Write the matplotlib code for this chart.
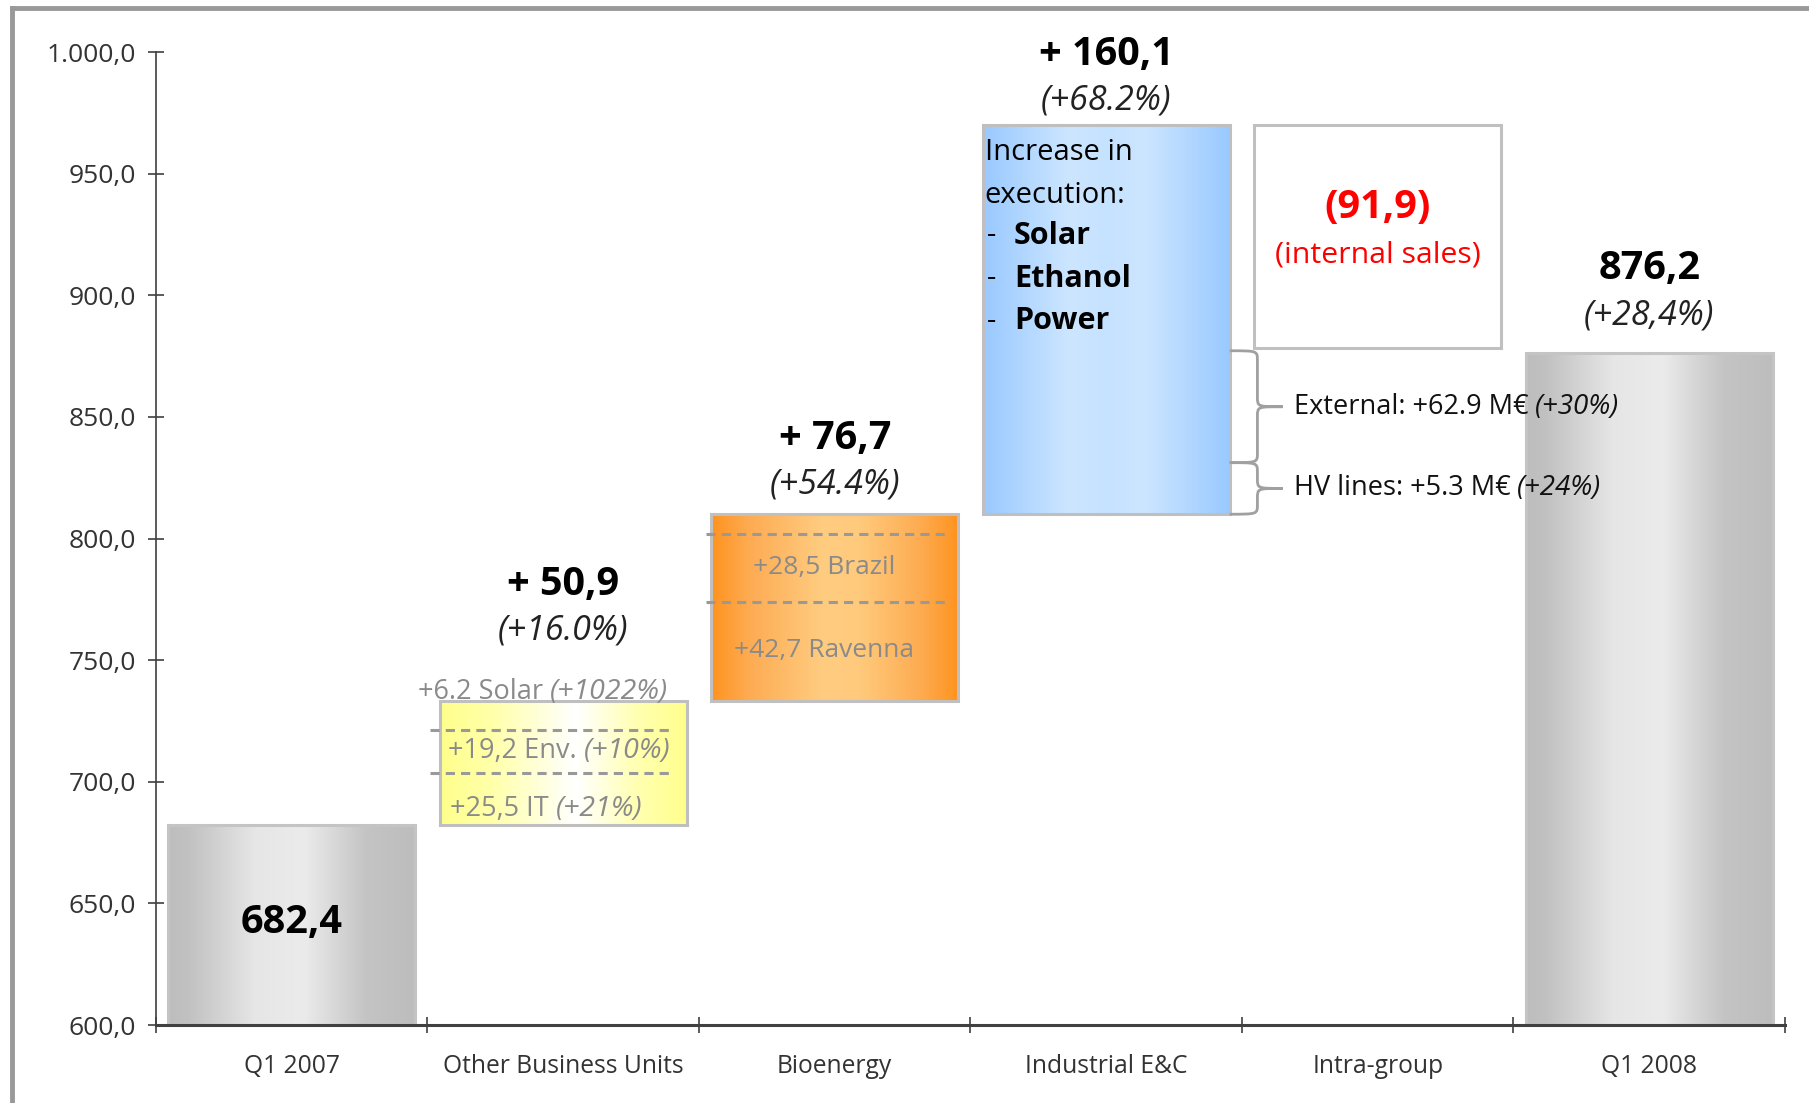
import numpy as np
import matplotlib
matplotlib.use('Agg')
import matplotlib.pyplot as plt
from matplotlib.colors import LinearSegmentedColormap
from matplotlib.path import Path
from matplotlib.patches import PathPatch
from matplotlib.lines import Line2D
from matplotlib.ticker import FuncFormatter

plt.rcParams['font.family'] = ['Open Sans', 'DejaVu Sans']

# data
categories = ['Q1 2007', 'Other Business Units', 'Bioenergy', 'Industrial E&C',
              'Intra-group', 'Q1 2008']
start_value = 682.4
deltas = [50.9, 76.7, 160.1, -91.9]
end_value = 876.2
delta_labels = ['+ 50,9', '+ 76,7', '+ 160,1', '(91,9)']
pct_labels = ['(+16.0%)', '(+54.4%)', '(+68.2%)', '(internal sales)']
start_label = '682,4'
end_label = '876,2'
end_pct = '(+28,4%)'

obu_parts = [('+6.2 Solar ', '(+1022%)'), ('+19,2 Env. ', '(+10%)'), ('+25,5 IT ', '(+21%)')]
obu_dividers = [703.6, 721.1]
bio_parts = ['+28,5 Brazil', '+42,7 Ravenna']
bio_dividers = [774.0, 802.0]
ind_intro = ['Increase in', 'execution:']
ind_items = ['Solar', 'Ethanol', 'Power']
brace_ranges = [(831.2, 877.2), (810.0, 831.2)]
brace_labels = [('External: +62.9 M€ ', '(+30%)'), ('HV lines: +5.3 M€ ', '(+24%)')]

# layout (label heights in axis units)
delta_label_y = [781.0, 841.3, 999.0, 936.0]
pct_label_y = [762.0, 822.3, 980.0, 916.4]
obu_text_y = [736.8, 712.6, 688.9]
obu_text_x = [0.465, 0.575, 0.583]
bio_text_y = [788.1, 753.9]
ind_text_y = [958.7, 941.1, 924.5, 906.9, 889.3]

# waterfall geometry from the data
levels = np.cumsum([start_value] + deltas)
x = np.arange(len(categories))
bottoms = [600.0] + [min(levels[i], levels[i + 1]) for i in range(len(deltas))] + [600.0]
heights = [start_value - 600.0] + [abs(d) for d in deltas] + [end_value - 600.0]

grey = [(0, '#bdbdbd'), (0.08, '#c1c1c1'), (0.35, '#e6e6e6'), (0.55, '#ebebeb'),
        (0.8, '#c4c4c4'), (1, '#bdbdbd')]
yellow = [(0, '#ffff8c'), (0.2, '#ffffa8'), (0.55, '#ffffff'), (0.8, '#ffffb0'), (1, '#ffff8c')]
orange = [(0, '#ff931e'), (0.15, '#fdab52'), (0.45, '#ffcc80'), (0.6, '#ffca7c'),
          (0.85, '#fdab50'), (1, '#ff931e')]
blue = [(0, '#99c9ff'), (0.35, '#cde6ff'), (0.5, '#c5e2ff'), (0.65, '#cde6ff'), (1, '#99c9ff')]
fills = [grey, yellow, orange, blue, None, grey]

fig = plt.figure(figsize=(18.09, 11.03), dpi=100)
ax = fig.add_axes([0.0862, 0.0707, 0.9005, 0.8821])

bars = ax.bar(x, heights, bottom=bottoms, width=0.91,
              facecolor=['none', 'none', 'none', 'none', 'white', 'none'],
              edgecolor=['#c4c4c4', '#bfbfbf', '#c0c0c0', '#bfbfbf', '#c0c0c0', '#c4c4c4'],
              linewidth=2.2, zorder=2)
grad = np.linspace(0, 1, 256).reshape(1, -1)
for bar, stops in zip(bars, fills):
    if stops is None:
        continue
    cmap = LinearSegmentedColormap.from_list('g', stops)
    ext = (bar.get_x(), bar.get_x() + bar.get_width(), bar.get_y(), bar.get_y() + bar.get_height())
    ax.imshow(grad, cmap=cmap, extent=ext, aspect='auto', zorder=1, interpolation='bicubic')

ax.set_xlim(-0.5, 5.5)
ax.set_ylim(600, 1000)

# axes styling
for s in ['top', 'right']:
    ax.spines[s].set_visible(False)
ax.spines['bottom'].set_linewidth(2.2)
ax.spines['bottom'].set_color('#404040')
ax.spines['left'].set_linewidth(1.2)
ax.spines['left'].set_color('#404040')
ax.set_yticks(np.arange(600, 1001, 50))
ax.yaxis.set_major_formatter(FuncFormatter(
    lambda v, p: f'{v:,.1f}'.replace(',', 'X').replace('.', ',').replace('X', '.')))
ax.tick_params(axis='y', direction='inout', length=11, width=1.2, pad=9,
               labelsize=19, labelcolor='#333333', color='#404040')
ax.set_xticks(x)
ax.set_xticklabels(categories)
ax.set_xticks(np.arange(-0.5, 5.6, 1), minor=True)
ax.tick_params(axis='x', which='major', length=0, pad=21, labelsize=17.7, labelcolor='#333333')
ax.tick_params(axis='x', which='minor', direction='inout', length=11.5, width=1.2, color='#404040')

# value labels
ax.text(0, 642.3, start_label, ha='center', va='center', fontsize=28.5, fontweight='bold')
ax.text(5, 911.0, end_label, ha='center', va='center', fontsize=28.5, fontweight='bold')
ax.text(5, 891.5, end_pct, ha='center', va='center', fontsize=24.5, style='italic', color='#222222')
for i in range(len(deltas)):
    red = deltas[i] < 0
    ax.text(i + 1, delta_label_y[i], delta_labels[i], ha='center', va='center', fontsize=28.5,
            fontweight='bold', color='red' if red else 'black', clip_on=False)
    ax.text(i + 1, pct_label_y[i], pct_labels[i], ha='center', va='center',
            fontsize=21.8 if red else 24.5, style='normal' if red else 'italic',
            color='red' if red else '#222222', clip_on=False)

inner_grey = '#8a8a8a'
# other business units breakdown
for (p1, p2), tx, ty in zip(obu_parts, obu_text_x, obu_text_y):
    t1 = ax.text(tx, ty, p1, ha='left', va='center', fontsize=19.5, color=inner_grey, zorder=4)
    ax.annotate(p2, xy=(1, 0), xycoords=t1, ha='left', va='bottom', fontsize=20.5,
                style='italic', color=inner_grey, zorder=4)
for d in obu_dividers:
    ax.plot([0.509, 1.39], [d, d], ls=(0, (3, 2)), color='#999999', lw=2.2, zorder=3)

# bioenergy breakdown
for t, ty in zip(bio_parts, bio_text_y):
    ax.text(1.96, ty, t, ha='center', va='center', fontsize=19, color=inner_grey, zorder=4)
for d in bio_dividers:
    ax.plot([1.526, 2.41], [d, d], ls=(0, (3, 2)), color='#999999', lw=2.2, zorder=3)

# industrial E&C text
for t, ty in zip(ind_intro, ind_text_y[:2]):
    ax.text(2.553, ty, t, ha='left', va='center', fontsize=21, zorder=4)
for t, ty in zip(ind_items, ind_text_y[2:]):
    ax.text(2.56, ty, '-', ha='left', va='center', fontsize=21, zorder=4)
    ax.text(2.66, ty, t, ha='left', va='center', fontsize=22, fontweight='bold', zorder=4)

# braces
x0 = bars[3].get_x() + bars[3].get_width()
xs, xt = 3.557, 3.65
for (y0, y1), (p1, p2) in zip(brace_ranges, brace_labels):
    ym = (y0 + y1) / 2
    r = min(4.0, (y1 - y0) / 4)
    verts = [(x0, y1), (xs, y1), (xs, y1), (xs, y1 - r),
             (xs, ym + r),
             (xs, ym), (xs, ym), (xt, ym),
             (xs, ym), (xs, ym), (xs, ym - r),
             (xs, y0 + r),
             (xs, y0), (xs, y0), (x0, y0)]
    codes = [Path.MOVETO, Path.CURVE4, Path.CURVE4, Path.CURVE4, Path.LINETO,
             Path.CURVE4, Path.CURVE4, Path.CURVE4,
             Path.CURVE4, Path.CURVE4, Path.CURVE4, Path.LINETO,
             Path.CURVE4, Path.CURVE4, Path.CURVE4]
    ax.add_patch(PathPatch(Path(verts, codes), fill=False, edgecolor='#a0a0a0', lw=2, zorder=3))
    t1 = ax.text(xt + 0.04, ym, p1, ha='left', va='center', fontsize=19.5, color='#111111', zorder=5)
    ax.annotate(p2, xy=(1, 0), xycoords=t1, ha='left', va='bottom', fontsize=20,
                style='italic', color='#111111', zorder=5)

# slide frame
fig.add_artist(Line2D([12 / 1809, 12 / 1809], [1 - 8 / 1103, 0], transform=fig.transFigure,
                      color='#999999', lw=3.5))
fig.add_artist(Line2D([12 / 1809, 1], [1 - 8 / 1103, 1 - 8 / 1103], transform=fig.transFigure,
                      color='#999999', lw=3.5))

fig.savefig('out.png', dpi=100, facecolor='white')
